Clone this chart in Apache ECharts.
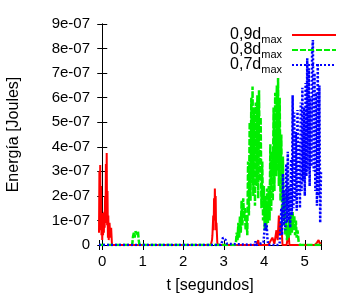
<!DOCTYPE html>
<html>
<head>
<meta charset="utf-8">
<script src="https://cdn.jsdelivr.net/npm/echarts@6/dist/echarts.min.js"></script>
<style>
  html, body { margin: 0; padding: 0; background: #fff; }
  #main { width: 344px; height: 304px; }
</style>
</head>
<body>
<div id="main"></div>
<script>
// energia en unidades de 1e-07 J, tiempo en segundos
var yTicks = [0, 1, 2, 3, 4, 5, 6, 7, 8, 9];
var seriesNames = ['0,9dmax', '0,8dmax', '0,7dmax'];

var red09 = [
  [-0.08, 0.5], [-0.07, 3.0], [-0.06, 1.2], [-0.05, 3.26], [-0.04, 0.6], [-0.03, 2.4], [-0.02, 0.4],
  [-0.01, 1.3], [0.0, 0.2], [0.01, 1.1], [0.02, 0.4], [0.03, 1.3], [0.04, 0.5], [0.05, 1.35],
  [0.06, 0.7], [0.07, 2.0], [0.08, 0.9], [0.09, 3.3], [0.10, 1.2], [0.11, 3.75], [0.12, 0.8],
  [0.13, 2.2], [0.14, 0.3], [0.15, 1.2], [0.16, 0.2], [0.18, 0.9], [0.20, 0.3], [0.22, 0.7],
  [0.24, 0.0], [1.5, 0], [2.2, 0], [2.23, 0.06], [2.26, 0.0], [2.68, 0], [2.71, 0.2],
  [2.72, 0.4], [2.74, 1.2], [2.75, 0.6], [2.76, 1.9], [2.77, 1.0], [2.78, 2.3], [2.79, 1.4],
  [2.80, 2.0], [2.81, 0.6], [2.82, 0.9], [2.84, 0.1], [2.86, 0],
  [3.8, 0], [3.85, 0.2], [3.87, 0], [4.1, 0], [4.2, 0.3], [4.25, 0.05], [4.3, 0.6], [4.33, 0.2],
  [4.36, 1.2], [4.38, 0.4], [4.42, 0.9], [4.45, 0], [4.55, 0], [4.6, 0.5], [4.62, 0],
  [5.25, 0], [5.3, 0.1], [5.34, 0.2], [5.37, 0.05], [5.4, 0.1]
];

var green08 = [
  [-0.08, 0], [0.74, 0], [0.76, 0.35], [0.78, 0.5], [0.80, 0.3], [0.82, 0.55], [0.84, 0.6],
  [0.86, 0.45], [0.88, 0.58], [0.90, 0.2], [0.92, 0],
  [3.28, 0], [3.30, 0.1], [3.32, 0.5], [3.34, 0.2], [3.36, 0.9], [3.38, 0.3], [3.40, 1.2],
  [3.42, 0.5], [3.44, 1.8], [3.46, 0.8], [3.48, 1.9], [3.50, 1.1], [3.52, 1.5], [3.54, 0.6],
  [3.56, 1.2], [3.58, 0.4], [3.60, 3.4], [3.62, 1.2], [3.64, 5.0], [3.66, 1.8], [3.68, 6.0],
  [3.70, 2.5], [3.71, 6.45], [3.73, 2.0], [3.75, 5.6], [3.77, 1.6], [3.79, 5.8], [3.81, 2.4],
  [3.83, 6.1], [3.85, 1.9], [3.87, 6.3], [3.89, 2.6], [3.91, 5.2], [3.93, 1.5], [3.95, 3.4],
  [3.97, 1.0], [3.99, 2.4], [4.01, 0.6], [4.03, 2.0], [4.05, 0.7], [4.07, 2.3], [4.09, 0.9],
  [4.11, 2.4], [4.13, 1.0], [4.15, 4.1], [4.17, 1.4], [4.19, 3.8], [4.21, 1.8], [4.23, 5.6],
  [4.25, 2.2], [4.27, 6.2], [4.29, 2.8], [4.31, 6.5], [4.33, 3.0], [4.34, 6.8], [4.36, 2.4],
  [4.38, 6.0], [4.40, 1.8], [4.42, 4.5], [4.44, 1.2], [4.46, 3.6], [4.48, 0.8], [4.50, 2.0],
  [4.52, 0.4], [4.54, 1.0], [4.56, 0.2], [4.58, 0.8], [4.60, 0.3], [4.62, 1.1], [4.64, 0.4],
  [4.66, 1.25], [4.68, 0.5], [4.70, 1.35], [4.72, 0.6], [4.74, 1.2], [4.76, 0.4], [4.78, 1.0],
  [4.80, 0.3], [4.82, 0.6], [4.85, 0.1], [4.88, 0], [5.4, 0]
];

var blue07 = [
  [-0.08, 0], [2.93, 0], [2.96, 0.15], [2.98, 0.3], [3.0, 0.25], [3.02, 0.32], [3.05, 0.2],
  [3.08, 0.05], [3.1, 0], [3.76, 0], [3.78, 0.15], [3.8, 0], [3.98, 0.1], [4.0, 0.5], [4.02, 0.9],
  [4.04, 0.6], [4.06, 0.8], [4.08, 0.2], [4.1, 0], [4.36, 0], [4.38, 0.1], [4.40, 0.6],
  [4.42, 1.5], [4.44, 0.4], [4.46, 2.9], [4.48, 0.8], [4.50, 2.2], [4.52, 0.6], [4.54, 3.3],
  [4.56, 0.9], [4.58, 3.8], [4.60, 1.0], [4.62, 2.4], [4.64, 0.7], [4.66, 3.5], [4.68, 1.2],
  [4.70, 6.1], [4.72, 1.5], [4.74, 5.4], [4.76, 1.8], [4.78, 4.6], [4.80, 1.4], [4.82, 5.5],
  [4.84, 2.0], [4.86, 4.2], [4.88, 1.5], [4.90, 5.8], [4.92, 2.2], [4.94, 6.4], [4.96, 2.6],
  [4.98, 5.6], [5.00, 2.0], [5.02, 6.6], [5.04, 2.8], [5.06, 7.6], [5.08, 3.0], [5.10, 7.2],
  [5.12, 2.4], [5.14, 6.0], [5.16, 3.2], [5.18, 7.8], [5.20, 8.35], [5.22, 3.0], [5.24, 7.0],
  [5.26, 2.2], [5.28, 6.2], [5.30, 1.6], [5.32, 7.4], [5.34, 2.0], [5.36, 6.5], [5.38, 0.9],
  [5.40, 3.0]
];

var chart = echarts.init(document.getElementById('main'));

var tickFont = { color: '#000', fontSize: 15, fontFamily: 'Liberation Sans' };

function legendLabel(name) {
  // "0,9dmax" -> 0,9d con subindice max
  return '{a|' + name.replace('max', '') + '}{b|max}';
}

var option = {
  animation: false,
  backgroundColor: '#fff',
  grid: { left: 99, right: 23, top: 24, bottom: 59, show: false, outerBoundsMode: 'none' },
  legend: {
    data: seriesNames,
    orient: 'vertical',
    right: 7,
    top: 27,
    padding: 0,
    align: 'right',
    itemWidth: 44,
    itemHeight: 10,
    itemGap: -3,
    itemStyle: { opacity: 0 },
    formatter: legendLabel,
    textStyle: {
      color: '#000',
      fontFamily: 'Liberation Sans',
      rich: {
        a: { fontSize: 16, fontFamily: 'Liberation Sans', color: '#000' },
        b: { fontSize: 11, fontFamily: 'Liberation Sans', color: '#000', padding: [9, 5, 0, 0] }
      }
    }
  },
  xAxis: [
    {
      type: 'value', min: -0.08, max: 5.4, splitNumber: 5,
      name: 't [segundos]', nameLocation: 'middle', nameGap: 33,
      nameTextStyle: { color: '#000', fontSize: 16, fontFamily: 'Liberation Sans' },
      axisLine: { lineStyle: { color: '#000', width: 1 } },
      axisTick: { inside: true, length: 5, lineStyle: { color: '#000' } },
      axisLabel: Object.assign({ margin: 9, formatter: function (v) {
        return Number.isInteger(v) ? String(v) : '';
      } }, tickFont),
      splitLine: { show: false }
    },
    {
      type: 'value', position: 'top', min: -0.08, max: 5.4, splitNumber: 5,
      axisLine: { lineStyle: { color: '#000', width: 1 } },
      axisTick: { inside: true, length: 5, lineStyle: { color: '#000' } },
      axisLabel: { show: false },
      splitLine: { show: false }
    }
  ],
  yAxis: [
    {
      type: 'value', min: yTicks[0], max: yTicks[yTicks.length - 1], interval: 1,
      name: 'Energía [Joules]', nameLocation: 'middle', nameGap: 77,
      nameTextStyle: { color: '#000', fontSize: 16, fontFamily: 'Liberation Sans' },
      axisLine: { show: true, lineStyle: { color: '#000', width: 1 } },
      axisTick: { show: true, inside: true, length: 5, lineStyle: { color: '#000' } },
      axisLabel: Object.assign({ margin: 9, formatter: function (v) {
        return v === 0 ? '0' : v + 'e-07';
      } }, tickFont),
      splitLine: { show: false }
    },
    {
      type: 'value', position: 'right', min: yTicks[0], max: yTicks[yTicks.length - 1], interval: 1,
      axisLine: { show: true, lineStyle: { color: '#000', width: 1 } },
      axisTick: { show: true, inside: true, length: 5, lineStyle: { color: '#000' } },
      axisLabel: { show: false },
      splitLine: { show: false }
    }
  ],
  series: [
    {
      name: seriesNames[0], type: 'line', data: red09, symbol: 'none',
      lineStyle: { color: '#ff0000', width: 2, type: 'solid' },
      itemStyle: { color: '#ff0000' }
    },
    {
      name: seriesNames[1], type: 'line', data: green08, symbol: 'none',
      lineStyle: { color: '#00ee00', width: 2.5, type: [6, 2] },
      itemStyle: { color: '#00ee00' }
    },
    {
      name: seriesNames[2], type: 'line', data: blue07, symbol: 'none',
      lineStyle: { color: '#0000ff', width: 2.5, type: [2, 2] },
      itemStyle: { color: '#0000ff' }
    }
  ]
};

chart.setOption(option);
</script>
</body>
</html>
